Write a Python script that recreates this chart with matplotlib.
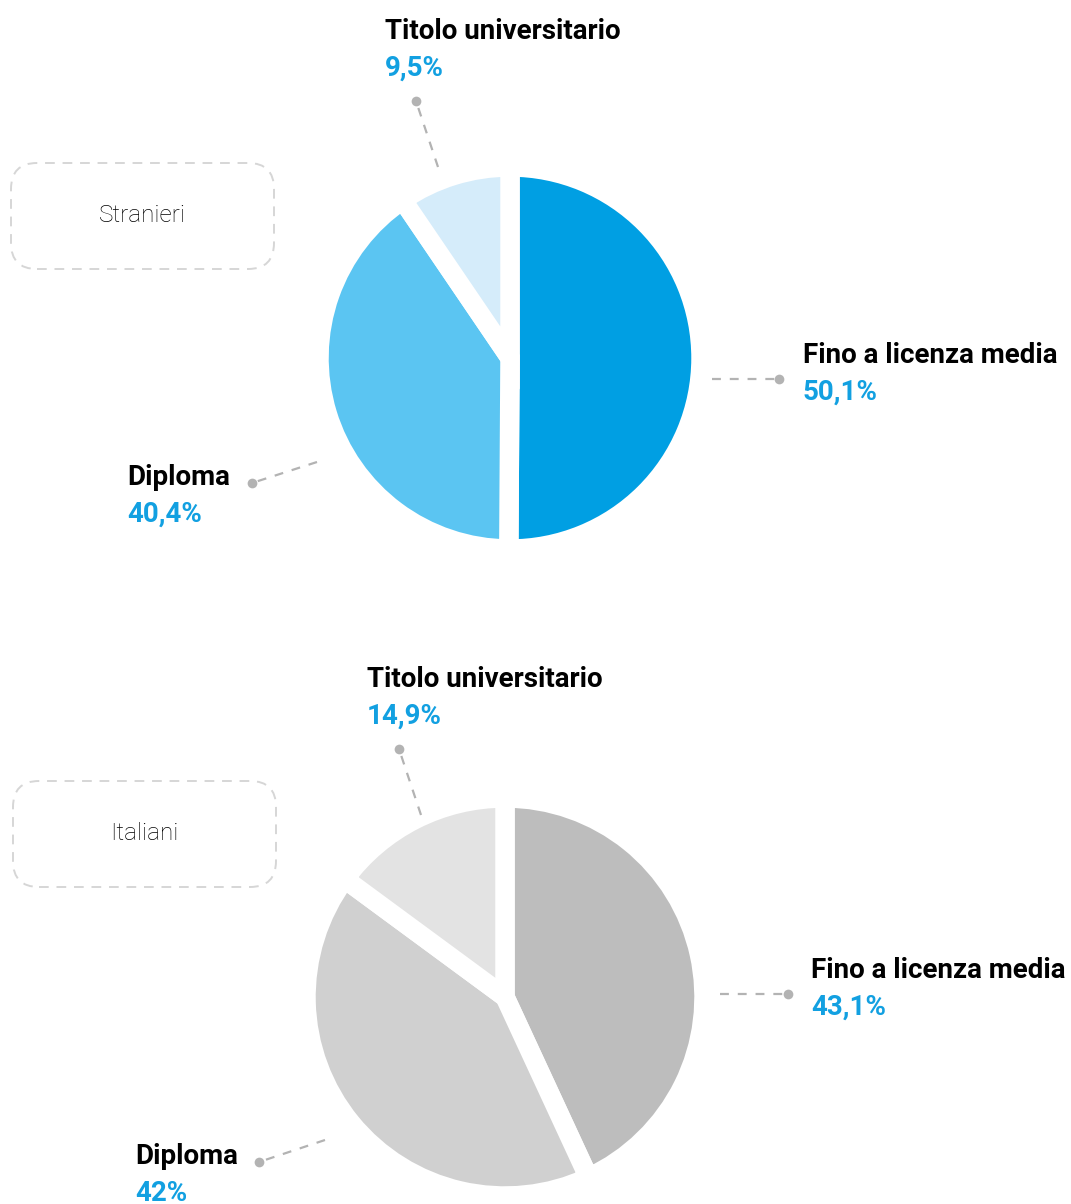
import matplotlib.pyplot as plt
from matplotlib.patches import FancyBboxPatch

W, H = 1071, 1204

categories = ['Fino a licenza media', 'Diploma', 'Titolo universitario']
stranieri = [50.1, 40.4, 9.5]
italiani = [43.1, 42.0, 14.9]
stranieri_labels = ['50,1%', '40,4%', '9,5%']
italiani_labels = ['43,1%', '42%', '14,9%']

blue_cols = ['#009fe3', '#5bc5f2', '#d5ecfa']
gray_cols = ['#bdbdbd', '#d0d0d0', '#e3e3e3']
value_col = '#12a0e1'
line_col = '#b3b3b3'

bold_font = ['Roboto', 'DejaVu Sans']

fig = plt.figure(figsize=(W / 100, H / 100), dpi=100)
ax = fig.add_axes([0, 0, 1, 1])


def Y(y):
    return H - y


def draw_pie(vals, cols, cx, cy, r):
    ax.pie(vals, colors=cols, startangle=90, counterclock=False,
           center=(cx, Y(cy)), radius=r + 9,
           wedgeprops=dict(edgecolor='white', linewidth=14))


def label(name, value, x, y):
    ax.text(x, Y(y), name, fontsize=20, fontweight='bold', family=bold_font,
            color='black', ha='left', va='baseline')
    ax.text(x, Y(y + 37), value, fontsize=20, fontweight='bold', family=bold_font,
            color=value_col, ha='left', va='baseline')


def leader(x0, y0, x1, y1):
    # dot end at (x1, y1)
    ax.plot([x0, x1], [Y(y0), Y(y1)], color=line_col, lw=1.6, ls=(0, (4, 4)))
    ax.plot(x1, Y(y1), 'o', color=line_col, ms=7, mec='none')


def group_box(text, x, y, w, h):
    box = FancyBboxPatch((x, Y(y + h)), w, h, boxstyle='round,pad=0,rounding_size=26',
                         fill=False, ec='#d6d6d6', lw=1.4, ls=(0, (5, 4)))
    ax.add_patch(box)
    ax.text(x + w / 2, Y(y + h / 2), text, fontsize=17.5, family=['Roboto', 'DejaVu Sans'],
            fontweight='light', color='black', ha='center', va='center')


# Stranieri
draw_pie(stranieri, blue_cols, 510, 358, 182)
group_box('Stranieri', 11, 163, 263, 106)
label(categories[2], stranieri_labels[2], 385, 39)
leader(438, 167, 416, 101)
label(categories[0], stranieri_labels[0], 803, 363)
leader(712, 379, 779, 379)
label(categories[1], stranieri_labels[1], 127, 485)
leader(317, 462, 252, 483)

# Italiani
draw_pie(italiani, gray_cols, 505, 997, 190)
group_box('Italiani', 13, 781, 263, 106)
label(categories[2], italiani_labels[2], 367, 687)
leader(421, 815, 399, 749)
label(categories[0], italiani_labels[0], 811, 978)
leader(720, 994, 788, 994)
label(categories[1], italiani_labels[1], 135, 1164)
leader(325, 1140, 259, 1162)

ax.set_xlim(0, W)
ax.set_ylim(0, H)
ax.set_aspect('auto')
ax.axis('off')

fig.savefig('out.png', dpi=100)
